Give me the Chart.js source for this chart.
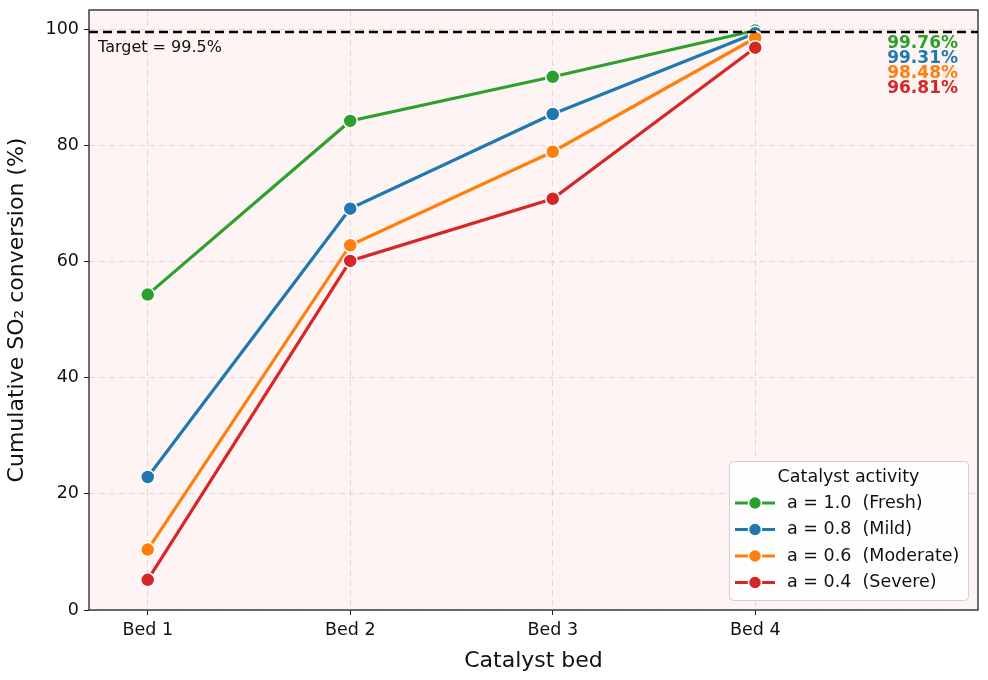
<!DOCTYPE html>
<html>
<head>
<meta charset="utf-8">
<script src="https://cdn.jsdelivr.net/npm/chart.js@4.4.1/dist/chart.umd.min.js"></script>
<style>
  html, body { margin: 0; padding: 0; background: #fff; }
  #wrap { width: 988px; height: 680px; }
</style>
</head>
<body>
<div id="wrap"><canvas id="chart" width="988" height="680"></canvas></div>
<script>
// Data
const beds = ['Bed 1', 'Bed 2', 'Bed 3', 'Bed 4'];
const seriesLabels = ['a = 1.0  (Fresh)', 'a = 0.8  (Mild)', 'a = 0.6  (Moderate)', 'a = 0.4  (Severe)'];
const fresh = [54.3, 84.2, 91.8, 99.76];
const mild = [22.9, 69.1, 85.4, 99.31];
const moderate = [10.4, 62.8, 78.9, 98.48];
const severe = [5.2, 60.1, 70.8, 96.81];
const yTicks = [0, 20, 40, 60, 80, 100];
const target = 99.5;

const colors = ['#2ca02c', '#1f77b4', '#ff7f0e', '#d62728'];
const allSeries = [fresh, mild, moderate, severe];
const FONT = "'DejaVu Sans', sans-serif";

const datasets = allSeries.map((vals, i) => ({
    label: seriesLabels[i],
    data: vals.map((v, j) => ({ x: j, y: v })),
    borderColor: colors[i],
    backgroundColor: colors[i],
    pointBackgroundColor: colors[i],
    pointBorderColor: '#ffffff',
    pointBorderWidth: 1.5,
    pointRadius: 7,
    borderWidth: 3.2,
    showLine: true,
    tension: 0,
    order: allSeries.length - i // red drawn on top
}));

// background, target line, frame, labels and legend
const decorPlugin = {
    id: 'decor',
    beforeDraw(chart) {
        const { ctx, chartArea: a } = chart;
        ctx.save();
        ctx.fillStyle = '#fef4f4';
        ctx.fillRect(a.left, a.top, a.right - a.left, a.bottom - a.top);
        ctx.restore();
    },
    afterDatasetsDraw(chart) {
        const { ctx, chartArea: a, scales } = chart;
        const y = scales.y.getPixelForValue(target);
        ctx.save();
        ctx.strokeStyle = '#000';
        ctx.lineWidth = 2.4;
        ctx.setLineDash([9, 5]);
        ctx.beginPath();
        ctx.moveTo(a.left, y);
        ctx.lineTo(a.right, y);
        ctx.stroke();
        ctx.setLineDash([]);

        ctx.fillStyle = '#111';
        ctx.font = '16px ' + FONT;
        ctx.textAlign = 'left';
        ctx.textBaseline = 'middle';
        ctx.fillText('Target = ' + target + '%', a.left + 9, y + 16);

        // final values
        ctx.font = 'bold 17px ' + FONT;
        ctx.textAlign = 'right';
        allSeries.forEach((vals, i) => {
            ctx.fillStyle = colors[i];
            ctx.fillText(vals[vals.length - 1].toFixed(2) + '%', a.right - 20, y + 12 + i * 15);
        });

        // frame
        ctx.strokeStyle = '#222';
        ctx.lineWidth = 1.3;
        ctx.strokeRect(a.left, a.top, a.right - a.left, a.bottom - a.top);

        // legend
        const bx = 729, by = 461, bw = 239, bh = 139;
        ctx.fillStyle = 'rgba(255,255,255,0.85)';
        ctx.strokeStyle = '#d0d0d0';
        ctx.lineWidth = 1;
        ctx.beginPath();
        ctx.roundRect(bx + 0.5, by + 0.5, bw, bh, 4);
        ctx.fill();
        ctx.stroke();
        ctx.fillStyle = '#111';
        ctx.font = '17.5px ' + FONT;
        ctx.textAlign = 'center';
        ctx.fillText('Catalyst activity', bx + bw / 2, by + 16);
        ctx.textAlign = 'left';
        seriesLabels.forEach((lab, i) => {
            const ly = by + 42 + i * 26.5;
            ctx.strokeStyle = colors[i];
            ctx.lineWidth = 3;
            ctx.beginPath();
            ctx.moveTo(bx + 6, ly);
            ctx.lineTo(bx + 46, ly);
            ctx.stroke();
            ctx.fillStyle = colors[i];
            ctx.strokeStyle = '#fff';
            ctx.lineWidth = 1.5;
            ctx.beginPath();
            ctx.arc(bx + 26, ly, 6.5, 0, Math.PI * 2);
            ctx.fill();
            ctx.stroke();
            ctx.fillStyle = '#111';
            ctx.fillText(lab, bx + 58, ly);
        });
        ctx.restore();
    }
};

new Chart(document.getElementById('chart'), {
    type: 'scatter',
    data: { datasets },
    options: {
        responsive: false,
        animation: false,
        layout: { padding: { top: 0, right: 10, left: 0, bottom: 0 } },
        plugins: {
            legend: { display: false },
            tooltip: { enabled: false }
        },
        scales: {
            x: {
                type: 'linear',
                min: -0.29,
                max: 4.1,
                afterBuildTicks: (scale) => { scale.ticks = beds.map((b, i) => ({ value: i })); },
                afterFit: (scale) => { scale.height = 70; },
                ticks: {
                    callback: (v) => beds[v],
                    color: '#111',
                    font: { family: FONT, size: 17.5 },
                    padding: 5
                },
                grid: {
                    color: 'rgba(200,170,170,0.4)',
                    tickColor: '#222',
                    tickLength: 5,
                    lineWidth: 1
                },
                border: { display: false, dash: [6, 4] },
                title: {
                    display: true,
                    text: 'Catalyst bed',
                    color: '#111',
                    font: { family: FONT, size: 22 },
                    padding: { top: 0, bottom: 6 }
                }
            },
            y: {
                min: 0,
                max: 103.3,
                afterBuildTicks: (scale) => { scale.ticks = yTicks.map(v => ({ value: v })); },
                afterFit: (scale) => { scale.width = 89; scale.paddingTop = 10; },
                ticks: {
                    color: '#111',
                    font: { family: FONT, size: 17.5 },
                    padding: 5
                },
                grid: {
                    color: 'rgba(200,170,170,0.4)',
                    tickColor: '#222',
                    tickLength: 5,
                    lineWidth: 1
                },
                border: { display: false, dash: [6, 4] },
                title: {
                    display: true,
                    text: 'Cumulative SO₂ conversion (%)',
                    color: '#111',
                    font: { family: FONT, size: 22 },
                    padding: { top: 4, bottom: 4 }
                }
            }
        }
    },
    plugins: [decorPlugin]
});
</script>
</body>
</html>
